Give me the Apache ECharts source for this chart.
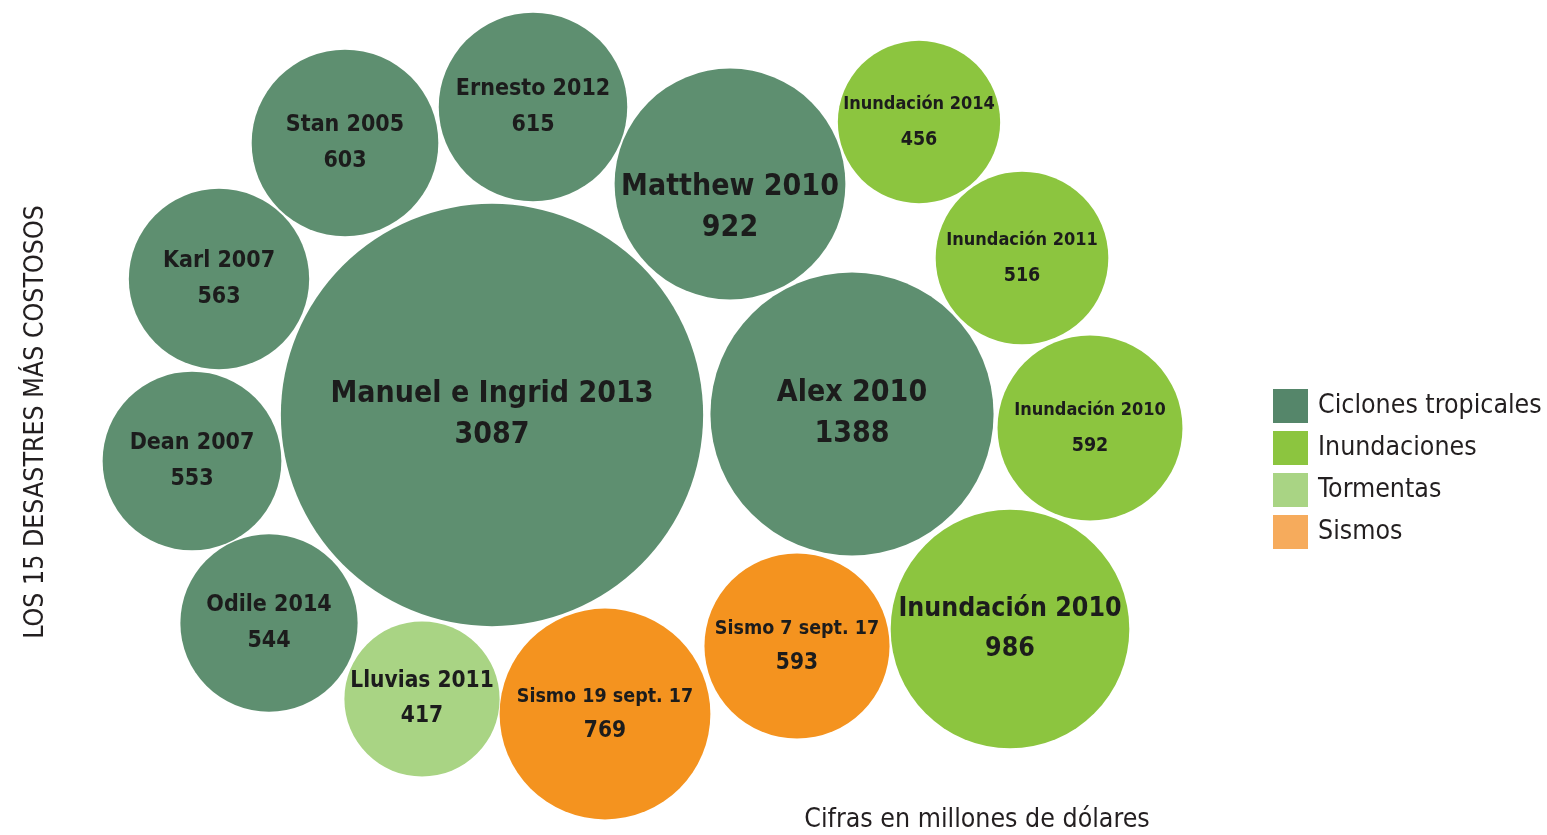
<!DOCTYPE html>
<html><head><meta charset="utf-8">
<script src="https://cdn.jsdelivr.net/npm/echarts@6/dist/echarts.min.js"></script>
<style>html,body{margin:0;padding:0;background:#fff}#c{width:1547px;height:835px}</style>
</head><body><div id="c"></div>
<script>
// ---- data ----
const names = ["Manuel e Ingrid 2013","Alex 2010","Matthew 2010","Ernesto 2012","Stan 2005","Karl 2007","Dean 2007","Odile 2014","Lluvias 2011","Sismo 19 sept. 17","Sismo 7 sept. 17","Inundación 2010","Inundación 2010","Inundación 2011","Inundación 2014"];
const values = [3087,1388,922,615,603,563,553,544,417,769,593,986,592,516,456];
const categories = ["Ciclones tropicales","Ciclones tropicales","Ciclones tropicales","Ciclones tropicales","Ciclones tropicales","Ciclones tropicales","Ciclones tropicales","Ciclones tropicales","Tormentas","Sismos","Sismos","Inundaciones","Inundaciones","Inundaciones","Inundaciones"];
const categoryNames = ["Ciclones tropicales","Inundaciones","Tormentas","Sismos"];
// packing layout positions (layout units)
const posX = [492,852,730,533,345,219,192,269,422,605,797,1010,1090,1022,919];
const posY = [415,414,184,107,143,279,461,623,699,714,646,629,428,258,122];

// ---- styles ----
const colors = {"Ciclones tropicales":"#5e8f70","Inundaciones":"#8cc53f","Tormentas":"#a9d484","Sismos":"#f4931f"};
const legendColors = {"Ciclones tropicales":"#55866a","Inundaciones":"#8cc53f","Tormentas":"#a9d484","Sismos":"#f6ab5c"};
const labelFont = [30,30,30,23,23,23,23,23,22.5,19.5,19.5,26.5,18,18,18];
const numFont   = [30,30,30,23,23,23,23,23,22.5,22.5,22.5,26.5,19.5,19.5,19.5];
const labelLine = [41,41,41,36,36,36,36,36,35,34,34,40,35,35,35];
const labelShift = [0,0,24,0,0,0,0,0,0,0,0,0,0,0,0];
const FONT = '"Liberation Sans Narrow","DejaVu Sans Condensed",sans-serif';

const chart = echarts.init(document.getElementById('c'));
const series = categoryNames.map(cat => ({
  name: cat,
  type: 'scatter',
  symbol: 'circle',
  symbolSize: d => 7.6 * Math.sqrt(d[2]),
  itemStyle: {color: colors[cat], opacity: 1},
  emphasis: {disabled: true},
  data: names.map((n,i)=>({i,n})).filter(o=>categories[o.i]===cat).map(o=>({
    name: o.n,
    value: [posX[o.i], posY[o.i], values[o.i]],
    label: {
      show: true, position: 'inside', offset: [0, labelShift[o.i]],
      formatter: '{a|' + o.n + '}\n{b|' + values[o.i] + '}',
      rich: {
        a: {fontFamily: FONT, fontWeight: 'bold', fontSize: labelFont[o.i], lineHeight: labelLine[o.i], color: '#1c1c1c', align:'center'},
        b: {fontFamily: FONT, fontWeight: 'bold', fontSize: numFont[o.i], lineHeight: labelLine[o.i], color: '#1c1c1c', align:'center'}
      }
    }
  }))
}));

chart.setOption({
  animation: false,
  grid: {left: 0, right: 0, top: 0, bottom: 0},
  xAxis: {type: 'value', min: 0, max: 1547, show: false},
  yAxis: {type: 'value', min: 0, max: 835, inverse: true, show: false},
  legend: {
    orient: 'vertical', left: 1268, top: 384,
    itemWidth: 35, itemHeight: 34, itemGap: 8,
    icon: 'rect',
    textStyle: {fontFamily: FONT, fontSize: 26.5, color: '#231f20', padding: [0,0,0,5]},
    data: categoryNames.map(c => ({name: c, itemStyle: {color: legendColors[c]}})),
    selectedMode: false
  },
  graphic: [
    {type: 'text', x: 36, y: 422, rotation: Math.PI/2, style: {text: 'LOS 15 DESASTRES MÁS COSTOSOS', fontFamily: FONT, fontSize: 26.5, fill: '#231f20', align: 'center', verticalAlign: 'middle'}},
    {type: 'text', x: 977, y: 820, style: {text: 'Cifras en millones de dólares', fontFamily: FONT, fontSize: 26.5, fill: '#231f20', align: 'center', verticalAlign: 'middle'}}
  ],
  series
});
</script></body></html>
